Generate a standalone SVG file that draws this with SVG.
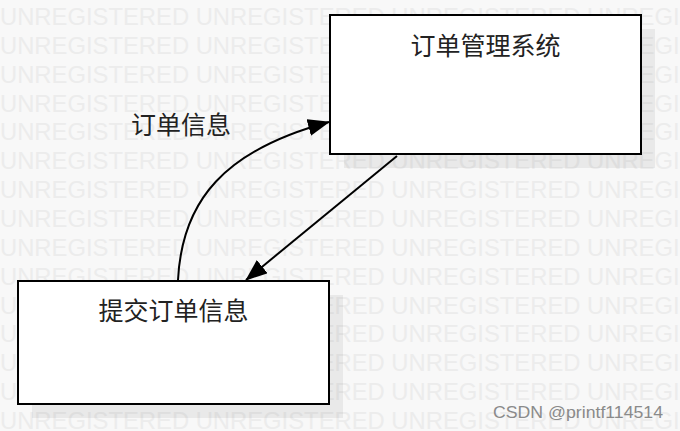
<svg xmlns="http://www.w3.org/2000/svg" width="680" height="431" viewBox="0 0 680 431">
  <style>
    .wm { font-family: "Liberation Sans", Arial, sans-serif; font-size: 23.8px; fill: #ececec; }
    .box { fill: #ffffff; stroke: #000000; stroke-width: 2; }
    .shadow { fill: #000000; fill-opacity: 0.06; }
    .label { font-family: "Noto Sans CJK SC", "Noto Sans", sans-serif; font-size: 25px; fill: #222222; }
    .edge { fill: none; stroke: #000000; stroke-width: 2; }
    .csdn { font-family: "Liberation Sans", Arial, sans-serif; font-size: 17px; fill: #8a8a8a; }
  </style>
  <defs>
    <marker id="arrow" markerUnits="userSpaceOnUse" markerWidth="24" markerHeight="18" refX="21" refY="8.5" orient="auto">
      <path d="M0,0 L22,8.5 L0,17 Z" fill="#000000"/>
    </marker>
  </defs>
  <rect x="0" y="0" width="680" height="431" fill="#f8f8f8"/>
  <g id="watermark">
    <text class="wm" x="0" y="25">UNREGISTERED UNREGISTERED UNREGISTERED UNREGISTERED</text>
    <text class="wm" x="0" y="53.85">UNREGISTERED UNREGISTERED UNREGISTERED UNREGISTERED</text>
    <text class="wm" x="0" y="82.7">UNREGISTERED UNREGISTERED UNREGISTERED UNREGISTERED</text>
    <text class="wm" x="0" y="111.55">UNREGISTERED UNREGISTERED UNREGISTERED UNREGISTERED</text>
    <text class="wm" x="0" y="140.4">UNREGISTERED UNREGISTERED UNREGISTERED UNREGISTERED</text>
    <text class="wm" x="0" y="169.25">UNREGISTERED UNREGISTERED UNREGISTERED UNREGISTERED</text>
    <text class="wm" x="0" y="198.1">UNREGISTERED UNREGISTERED UNREGISTERED UNREGISTERED</text>
    <text class="wm" x="0" y="226.95">UNREGISTERED UNREGISTERED UNREGISTERED UNREGISTERED</text>
    <text class="wm" x="0" y="255.8">UNREGISTERED UNREGISTERED UNREGISTERED UNREGISTERED</text>
    <text class="wm" x="0" y="284.65">UNREGISTERED UNREGISTERED UNREGISTERED UNREGISTERED</text>
    <text class="wm" x="0" y="313.5">UNREGISTERED UNREGISTERED UNREGISTERED UNREGISTERED</text>
    <text class="wm" x="0" y="342.35">UNREGISTERED UNREGISTERED UNREGISTERED UNREGISTERED</text>
    <text class="wm" x="0" y="371.2">UNREGISTERED UNREGISTERED UNREGISTERED UNREGISTERED</text>
    <text class="wm" x="0" y="400.05">UNREGISTERED UNREGISTERED UNREGISTERED UNREGISTERED</text>
    <text class="wm" x="0" y="428.9">UNREGISTERED UNREGISTERED UNREGISTERED UNREGISTERED</text>
  </g>
  <g id="order-system">
    <rect class="shadow" x="344" y="29" width="311" height="139"/>
    <rect class="box" x="330" y="15" width="311" height="139"/>
    <text class="label" x="485.5" y="55" text-anchor="middle">订单管理系统</text>
  </g>
  <g id="submit-order">
    <rect class="shadow" x="32" y="295" width="311" height="123"/>
    <rect class="box" x="18" y="281" width="311" height="123"/>
    <text class="label" x="173.5" y="320" text-anchor="middle">提交订单信息</text>
  </g>
  <g id="connectors">
    <path class="edge" d="M178,280 C182,200 225,150 329,122" marker-end="url(#arrow)"/>
    <path class="edge" d="M397,156 L246,280" marker-end="url(#arrow)"/>
    <text class="label" x="181" y="134" text-anchor="middle">订单信息</text>
  </g>
  <text class="csdn" x="493" y="418" textLength="170" lengthAdjust="spacingAndGlyphs">CSDN @printf114514</text>
</svg>
